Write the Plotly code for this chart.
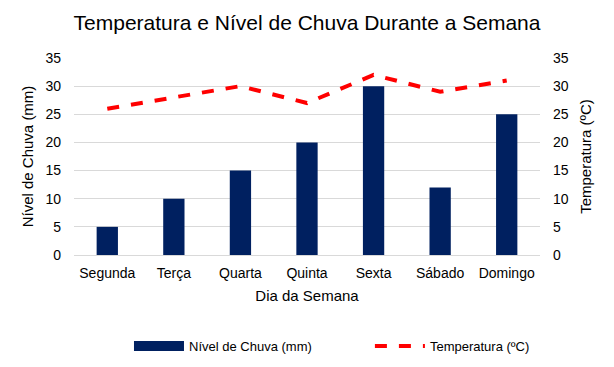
import plotly.graph_objects as go

dias = ["Segunda", "Terça", "Quarta", "Quinta", "Sexta", "Sábado", "Domingo"]
chuva_mm = [5, 10, 15, 20, 30, 12, 25]
temperatura_c = [26, 28, 30, 27, 32, 29, 31]
ticks = [0, 5, 10, 15, 20, 25, 30, 35]

FONT = "Liberation Sans, Arial, sans-serif"
BAR_COLOR = "#002060"

fig = go.Figure()
fig.add_trace(go.Bar(
    x=dias, y=chuva_mm, name="Nível de Chuva (mm)",
    marker=dict(color=BAR_COLOR, line=dict(width=0)),
    yaxis="y", showlegend=False,
))
# legend entry with a wide rectangular swatch for the bars
fig.add_trace(go.Scatter(
    x=[None], y=[None], name="Nível de Chuva (mm)", mode="lines",
    line=dict(color=BAR_COLOR, width=10), yaxis="y", legend="legend",
))
fig.add_trace(go.Scatter(
    x=dias, y=temperatura_c, name="Temperatura (ºC)", mode="lines",
    line=dict(color="#FF0000", width=4, dash="dash"),
    yaxis="y2", legend="legend2",
))

leg_common = dict(orientation="h", yanchor="middle", y=-0.462, xanchor="left",
                  font=dict(size=13), itemwidth=50, bgcolor="rgba(0,0,0,0)")

fig.update_layout(
    width=606, height=359,
    margin=dict(l=66, r=74, t=50, b=112, autoexpand=False),
    paper_bgcolor="white", plot_bgcolor="white",
    font=dict(family=FONT, size=14, color="#000000"),
    title=dict(text="Temperatura e Nível de Chuva Durante a Semana",
               xref="paper", x=0.5, xanchor="center", y=0.958, yanchor="middle",
               font=dict(family=FONT, size=21, color="#000000")),
    bargap=0.68,
    xaxis=dict(title=dict(text="Dia da Semana", font=dict(size=15), standoff=10),
               tickfont=dict(size=14), showgrid=False, automargin=False,
               showline=True, linecolor="#D9D9D9", linewidth=1, ticks="",
               ticklabelstandoff=5),
    yaxis=dict(title=dict(text="Nível de Chuva (mm)", font=dict(size=15), standoff=8),
               range=[0, 35], tickvals=ticks, tickfont=dict(size=14), automargin=False,
               showgrid=True, gridcolor="#D9D9D9", zeroline=False, showline=False,
               ticks="", ticklabelstandoff=12),
    yaxis2=dict(title=dict(text="Temperatura (ºC)", font=dict(size=15), standoff=12),
                range=[0, 35], tickvals=ticks, tickfont=dict(size=14), automargin=False,
                overlaying="y", side="right", showgrid=False, zeroline=False,
                showline=False, ticks="", ticklabelstandoff=12),
    legend=dict(x=0.118, **leg_common),
    legend2=dict(x=0.635, **leg_common),
)

fig.write_html("out.html")
